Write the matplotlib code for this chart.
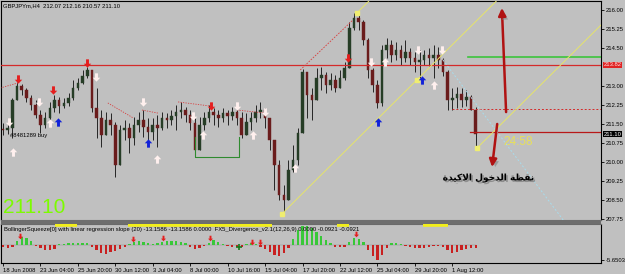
import matplotlib
matplotlib.use("Agg")
import matplotlib.pyplot as plt
import matplotlib.patheffects as pe
import matplotlib.transforms as mtrans
from matplotlib.path import Path
from matplotlib.patches import Rectangle
import numpy as np

plt.rcParams['font.family'] = ['Liberation Sans', 'DejaVu Sans']

# ---------------- data ----------------
title_text = "GBPJPYm,H4  212.07 212.16 210.57 211.10"
indicator_text = ("BollingerSqueeze[0] with linear regression slope (20) -13.1586 -13.1586 0.0000  "
                  "FX5_Divergence_v2.1(12,26,9) 0.0000 -0.0921 -0.0921")

first_open = 211.30
closes = [211.26, 211.34, 212.45, 213.00, 212.84, 212.53, 212.25, 211.85, 211.46, 211.74,
          212.13, 212.45, 212.21, 212.33, 212.53, 212.92, 213.12, 213.39, 213.63, 212.13,
          211.74, 211.07, 211.66, 211.46, 209.88, 211.26, 211.34, 210.95, 211.46, 211.66,
          211.38, 211.18, 211.46, 211.34, 211.74, 211.66, 211.82, 211.97, 212.05, 211.85,
          211.54, 210.47, 211.46, 211.74, 211.97, 211.85, 211.74, 211.93, 211.82, 211.97,
          211.74, 211.07, 211.58, 211.74, 211.97, 212.05, 211.74, 210.87, 209.88, 208.70,
          208.50, 209.68, 210.08, 211.14, 213.55, 212.64, 212.45, 213.32, 213.43, 213.04,
          213.24, 212.92, 213.32, 213.71, 215.29, 215.68, 215.53, 214.82, 213.63, 213.04,
          212.33, 214.42, 214.62, 214.22, 214.42, 214.10, 214.34, 214.10, 213.95, 214.03,
          214.22, 214.10, 214.22, 214.03, 213.55, 212.45, 212.53, 212.68, 212.45, 212.57,
          212.07, 211.10]
highs = [211.54, 211.58, 212.53, 213.16, 213.08, 212.92, 212.64, 212.45, 212.05, 211.97,
         212.37, 212.64, 212.57, 212.53, 212.72, 213.24, 213.32, 213.63, 213.75, 213.63,
         212.92, 212.05, 211.97, 211.93, 211.58, 211.46, 211.66, 211.54, 211.78, 211.97,
         212.05, 211.74, 211.74, 211.85, 211.97, 211.93, 212.05, 212.25, 212.37, 212.17,
         212.05, 211.74, 211.78, 211.97, 212.25, 212.13, 212.05, 212.13, 212.05, 212.17,
         212.13, 211.97, 211.93, 211.97, 212.25, 212.37, 212.13, 211.66, 210.87, 210.08,
         209.09, 210.08, 210.67, 211.34, 213.67, 213.43, 212.92, 213.71, 213.75, 213.55,
         213.51, 213.43, 213.63, 213.95, 215.53, 215.88, 215.80, 215.61, 214.89, 213.71,
         213.24, 214.62, 214.89, 214.82, 214.74, 214.62, 214.82, 214.50, 214.34, 214.42,
         214.42, 214.50, 214.62, 214.54, 214.10, 213.63, 212.92, 212.96, 212.92, 212.84,
         212.64, 212.16]
lows = [211.07, 211.10, 210.95, 212.45, 212.64, 212.37, 212.05, 211.74, 211.14, 211.34,
        211.66, 211.97, 211.93, 212.13, 212.21, 212.45, 212.84, 213.08, 213.32, 211.97,
        210.95, 210.59, 211.14, 211.07, 209.41, 210.08, 210.87, 210.35, 210.67, 211.18,
        210.99, 210.79, 210.87, 210.59, 211.26, 211.34, 211.46, 211.26, 211.74, 211.58,
        211.26, 210.20, 210.87, 211.26, 211.58, 211.46, 211.38, 211.58, 211.46, 211.66,
        211.46, 210.95, 211.18, 211.26, 211.58, 211.74, 211.34, 210.47, 208.89, 208.50,
        207.99, 208.70, 209.60, 209.88, 211.14, 211.74, 211.66, 212.45, 212.84, 212.72,
        212.84, 212.76, 213.04, 213.24, 213.71, 215.21, 215.21, 214.62, 213.32, 212.76,
        212.13, 212.21, 214.10, 213.95, 214.03, 213.83, 213.95, 213.83, 213.55, 213.32,
        213.83, 213.79, 213.32, 213.71, 213.39, 212.05, 212.05, 212.13, 212.17, 212.21,
        212.05, 210.57]

indicator = [-0.75, -1.13, -0.75, 1.51, 3.02, 2.64, 1.51, -0.38, -1.13, -1.89,
             -1.89, -1.51, 0.19, 0.38, 0.57, 0.75, 0.75, 0.94, 0.75, -0.75,
             -1.89, -3.02, -3.39, -2.64, -2.26, -1.51, -0.75, 0.38, 1.13, 1.51,
             1.13, 0.57, 0.19, 0.75, 1.13, 1.51, 1.51, 1.32, 1.13, 0.75,
             -0.57, -1.51, -1.13, -0.38, 0.94, 1.70, 1.13, 0.38, -0.19, -0.57,
             -0.75, -0.57, 0.38, 0.57, 0.38, -0.75, -1.51, -2.64, -3.77, -4.15,
             -3.02, -1.13, 2.26, 5.66, 7.16, 7.16, 6.41, 4.90, 3.39, 1.89,
             0.75, -0.57, -0.75, -0.57, 1.13, 2.64, 2.26, 1.13, -1.89, -4.15,
             -5.65, -3.77, -1.13, 0.57, 0.57, 0.19, -0.38, -0.75, -1.13, -1.32,
             -1.13, -0.75, -0.38, -0.19, -0.75, -1.89, -3.02, -2.64, -1.89, -1.51,
             -1.13, -1.13]

date_positions = [0, 8, 16, 24, 32, 40, 48, 56, 64, 72, 80, 88, 96]
date_labels = ["18 Jun 2008", "23 Jun 04:00", "25 Jun 20:00", "30 Jun 12:00", "3 Jul 04:00",
               "8 Jul 00:00", "10 Jul 16:00", "15 Jul 04:00", "17 Jul 20:00", "22 Jul 12:00",
               "25 Jul 04:00", "29 Jul 20:00", "1 Aug 12:00"]

price_ticks = [216.00, 215.25, 214.50, 213.00, 212.25, 211.50, 210.75, 210.00, 209.25, 208.50, 207.75]
resistance_level = 213.83
resistance_label = "213.82"
bid_price = 211.10
target_level = 214.14
dashed_level = 212.09
stop_level = 211.20

# signal arrows (bar index, price)
red_down_x = [3.2, 10.7, 17.9, 44.4, 73.7]
red_down_y = [213.28, 212.84, 213.91, 212.21, 214.10]
white_down_x = [1.3, 7.7, 19.9, 29.9, 40.6, 50.0, 56.0, 78.6, 88.7, 93.8]
white_down_y = [211.58, 212.37, 213.35, 212.37, 211.82, 212.21, 211.97, 213.95, 214.42, 214.42]
white_up_x = [2.1, 10.0, 32.9, 42.7, 53.4, 62.4, 81.6, 92.1]
white_up_y = [210.39, 211.54, 210.12, 211.07, 211.07, 209.76, 213.95, 213.04]
blue_up_x = [11.8, 31.0, 80.1, 89.5]
blue_up_y = [211.58, 210.75, 211.58, 213.24]

# divergence (dotted red) segments: (x0, y0, x1, y1)
divergence_lines = [(-0.6, 212.92, 3.2, 213.12), (22.4, 212.33, 27.8, 211.74),
                    (29.7, 212.05, 33.1, 211.93), (37.4, 212.37, 44.2, 212.21),
                    (50.0, 212.05, 56.0, 211.93)]
trend_red = (63.5, 213.63, 74.8, 215.61)
cyan_line = (94.0, 214.03, 119.7, 207.71)

# channel (yellow) anchors and slope (price per bar)
channel_slope = 0.1834
channel_starts_x = [59.6, 75.6, 101.3]
channel_starts_y = [207.95, 215.88, 210.55]
channel_dot_x = [59.6, 75.6, 88.5, 101.3]
channel_dot_y = [207.95, 215.88, 213.24, 210.55]

box_x = [41.0, 41.0, 50.4, 50.4]
box_y = [211.00, 210.20, 210.20, 210.99]

# hand-drawn arrows (start x, start y, end x, end y)
user_arrows = [(107.5, 211.97, 106.6, 216.08), (105.6, 211.50, 104.5, 209.80)]

# indicator arrows
ind_red_x = [3.6, 27.8, 34.2, 44.2, 53.2, 54.9, 75.4]
ind_red_y = [3.39, 2.26, 2.64, 2.64, 1.13, 1.13, 4.15]
ind_green_x = [50.4]
ind_green_y = [-0.75]
squeeze_spans = [(11.1, 15.8), (26.7, 57.5), (71.4, 73.9), (89.7, 95.1)]

# ---------------- figure ----------------
BG = '#c0c0c0'
fig = plt.figure(figsize=(6.25, 2.74), dpi=100, facecolor=BG)
W, H = 625.0, 274.0
ax = fig.add_axes([1 / W, (H - 220) / H, 600 / W, 219 / H], facecolor=BG)
ax2 = fig.add_axes([1 / W, (H - 263) / H, 600 / W, 39 / H], facecolor=BG)

xmin, xmax = -0.43, 127.78
ax.set_xlim(xmin, xmax)
ax.set_ylim(207.709, 216.355)
ax2.set_xlim(xmin, xmax)
ax2.set_ylim(-6.79, 7.92)

n = len(closes)
xs = np.arange(n)
opens = np.array([first_open] + closes[:-1])
c = np.array(closes)
hi = np.maximum(np.array(highs), np.maximum(opens, c))
lo = np.minimum(np.array(lows), np.minimum(opens, c))
bull = c >= opens
body_col = np.where(bull, '#263d26', '#6a1c1c')

ax.vlines(xs, lo, hi, color='#0c0c0c', lw=0.6, zorder=3)
ax.bar(xs, np.maximum(np.abs(c - opens), 0.012), bottom=np.minimum(opens, c), width=0.55,
       color=body_col, edgecolor=body_col, lw=0.3, zorder=4)

# horizontal lines
ax.axhline(resistance_level, color='#d42a2a', lw=0.9, zorder=5)
ax.plot([99.4, xmax], [target_level] * 2, color='#3cc43c', lw=1.2, zorder=5)
ax.plot([96, xmax], [dashed_level] * 2, color='#d42a2a', lw=0.7, ls=(0, (2, 2)), zorder=5)
ax.plot([99.8, xmax], [stop_level] * 2, color='#b81818', lw=0.9, zorder=5)

# divergence dotted lines
for x0, y0, x1, y1 in divergence_lines:
    ax.plot([x0, x1], [y0, y1], color='#d84040', lw=0.6, ls=(0, (1.5, 1.5)), zorder=5)
ax.plot(trend_red[0::2], trend_red[1::2], color='#d84040', lw=0.6, ls=(0, (2, 1.5)), zorder=5)
ax.plot(cyan_line[0::2], cyan_line[1::2], color='#a8dcec', lw=0.7, ls=(0, (2, 2)), zorder=5)

# yellow channel lines
for sx, sy in zip(channel_starts_x, channel_starts_y):
    ax.plot([sx, xmax], [sy, sy + channel_slope * (xmax - sx)], color='#e6e46a', lw=0.7, zorder=5)
ax.plot(channel_dot_x, channel_dot_y, ls='none', marker='s', ms=2.2, color='#f0ee70', zorder=6)

# green box
ax.plot(box_x, box_y, color='#2f8a2f', lw=0.8, zorder=5)

# arrow markers
up_path = Path([(0, 1), (-0.9, 0.05), (-0.35, 0.05), (-0.35, -1), (0.35, -1), (0.35, 0.05),
                (0.9, 0.05), (0, 1)],
               [Path.MOVETO] + [Path.LINETO] * 6 + [Path.CLOSEPOLY])
down_path = Path([(vx, -vy) for vx, vy in up_path.vertices], up_path.codes)

ax.plot(red_down_x, red_down_y, ls='none', marker=down_path, ms=6, color='#e41e1e', mew=0, zorder=7)
ax.plot(white_down_x, white_down_y, ls='none', marker=down_path, ms=6, color='#fff0ee', mew=0, zorder=7)
ax.plot(white_up_x, white_up_y, ls='none', marker=up_path, ms=6, color='#fff0ee', mew=0, zorder=7)
ax.plot(blue_up_x, blue_up_y, ls='none', marker=up_path, ms=6, color='#1222d8', mew=0, zorder=7)

# hand-drawn big arrows
shadow = [pe.SimplePatchShadow(offset=(2, -2), shadow_rgbFace='#808080', alpha=0.6), pe.Normal()]
for x0, y0, x1, y1 in user_arrows:
    ax.annotate('', xy=(x1, y1), xytext=(x0, y0),
                arrowprops=dict(arrowstyle='-|>', color='#b01212', lw=1.8, mutation_scale=11,
                                shrinkA=0, shrinkB=0, path_effects=shadow), zorder=8)

# texts in main panel
ax.text(0.004, 0.977, title_text, transform=ax.transAxes, fontsize=4.2, color='black',
        va='center', ha='left')
ax.text(0.004, 0.055, "211.10", transform=ax.transAxes, fontsize=15, color='#7cfc00',
        va='center', ha='left')
ax.text(0.837, 0.356, "24:58", transform=ax.transAxes, fontsize=8.5, color='#e8e05a',
        va='center', ha='left')
ax.text(0.015, 0.384, "#8481289 buy", transform=ax.transAxes, fontsize=4.2, color='black',
        va='center', ha='left', zorder=9)
arabic_label = ("\ufe93\ufeaa\ufef4\ufedb\ufefb\ufe8d \ufedd\ufeee\ufea7\ufeaa\ufedf\ufe8d "
                "\ufe94\ufec4\ufed8\ufee7")
ax.text(0.812, 0.192, arabic_label, transform=ax.transAxes, fontsize=6.5, color='black',
        fontweight='bold', va='center', ha='center', family=['DejaVu Sans', 'Noto Sans'],
        path_effects=[pe.SimplePatchShadow(offset=(1.2, -1.2), shadow_rgbFace='#7a7a7a', alpha=0.7),
                      pe.Normal()], zorder=9)

# axis formatting main
ax.yaxis.tick_right()
ax.set_yticks(price_ticks)
ax.set_yticklabels([f"{t:.2f}" for t in price_ticks])
ax.tick_params(axis='y', labelsize=4.2, length=2, width=0.6, pad=1.5, direction='out', colors='black')
ax.set_xticks([])
for s in ax.spines.values():
    s.set_color('black')
    s.set_linewidth(0.8)
ax.spines['bottom'].set_color('#6a6a6a')

# price boxes
trans = mtrans.blended_transform_factory(ax.transAxes, ax.transData)
ax.text(1.004, resistance_level, resistance_label, transform=trans, fontsize=4.2, color='#ffe0e0',
        va='center', ha='left', bbox=dict(boxstyle='square,pad=0.15', fc='#e02424', ec='none'),
        zorder=10, clip_on=False)
ax.text(1.004, bid_price, f"{bid_price:.2f}", transform=trans, fontsize=4.2, color='white',
        va='center', ha='left', bbox=dict(boxstyle='square,pad=0.15', fc='black', ec='none'),
        zorder=10, clip_on=False)

# separator band
fig.patches.append(Rectangle((1 / W, (H - 223.5) / H), 600 / W, 3.2 / H, transform=fig.transFigure,
                             facecolor='#6e6e6e', edgecolor='none', zorder=0))

# ---------------- indicator panel ----------------
ind = np.array(indicator)
ind_col = np.where(ind >= 0, '#38c838', '#c82020')
ax2.bar(xs, ind, width=0.5, color=ind_col, zorder=3)
ax2.plot(xs, np.zeros(n), color='#888888', lw=0.3, zorder=2)
for a, b in squeeze_spans:
    ax2.plot([a, b], [7.6, 7.6], color='#f2ee1a', lw=2.6, solid_capstyle='butt', zorder=4)
ax2.plot(ind_red_x, ind_red_y, ls='none', marker=down_path, ms=4, color='#e41e1e', mew=0, zorder=5)
ax2.plot(ind_green_x, ind_green_y, ls='none', marker='+', ms=4, color='#1a7a1a', mew=1.2, zorder=5)
ax2.text(0.005, 0.87, indicator_text, transform=ax2.transAxes, fontsize=4.2, color='black',
         va='center', ha='left', zorder=6)

ax2.yaxis.tick_right()
ax2.set_yticks([-5.6503])
ax2.set_yticklabels(["-5.6503"])
ax2.tick_params(axis='y', labelsize=4.2, length=2, width=0.6, pad=1.5, direction='out')
ax2.set_xticks(date_positions)
ax2.set_xticklabels(date_labels)
ax2.tick_params(axis='x', labelsize=4.2, length=2, width=0.6, pad=1.5, direction='out')
for lab in ax2.get_xticklabels():
    lab.set_ha('left')
for s in ax2.spines.values():
    s.set_color('black')
    s.set_linewidth(0.8)
ax2.spines['top'].set_color('#6a6a6a')

fig.savefig('out.png', dpi=100, facecolor=BG)
